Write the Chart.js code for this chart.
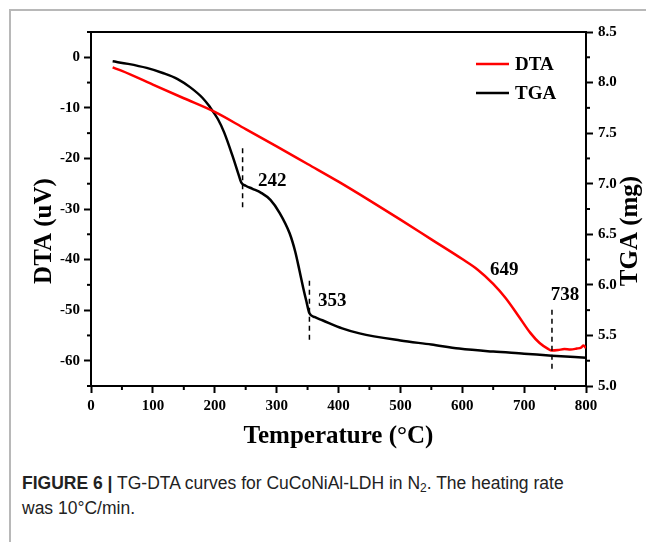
<!DOCTYPE html>
<html><head><meta charset="utf-8">
<script src="https://cdn.jsdelivr.net/npm/chart.js@4/dist/chart.umd.min.js"></script>
<style>
html,body{margin:0;padding:0;background:#fff;}
body{width:646px;height:542px;position:relative;overflow:hidden;}
#frameTop{position:absolute;left:10px;top:9px;width:636px;height:0;border-top:2px solid #b8b8b8;}
#frameLeft{position:absolute;left:9px;top:9px;width:0;height:533px;border-left:2px solid #b8b8b8;}
#wrap{position:absolute;left:0;top:0;width:646px;height:460px;}
#cap{position:absolute;left:22px;top:471px;white-space:nowrap;font-family:"Liberation Sans",Arial,sans-serif;font-size:17.5px;line-height:25px;color:#222;}
#cap b{font-weight:bold;}
#cap sub{font-size:12px;line-height:0;vertical-align:-3px;}
</style></head>
<body>
<div id="frameTop"></div><div id="frameLeft"></div>
<div id="wrap"><canvas id="c" width="646" height="460"></canvas></div>
<div id="cap"><b>FIGURE 6 |</b> TG-DTA curves for CuCoNiAl-LDH in N<sub>2</sub>. The heating rate<br>was 10°C/min.</div>
<script>
// ---- data ----
const dtaTemps = [35,50,100,150,200,250,300,350,400,450,500,550,600,625,650,670,690,710,725,738,745,755,765,775,785,792,796,800];
const dtaValues = [-2.0,-2.7,-5.4,-8.1,-10.8,-14.2,-17.6,-21.1,-24.6,-28.3,-32.1,-36.0,-39.9,-42.0,-44.8,-47.6,-51.0,-54.5,-56.5,-57.6,-58.0,-57.9,-57.7,-57.8,-57.6,-57.4,-57.0,-57.5];
const tgaTemps = [35,60,90,116,140,160,180,192,205,215,229,238,243,250,261,275,290,305,321,330,337,343,348,353,362,374,406,434,500,550,595,650,700,745,800];
const tgaValues = [8.21,8.185,8.145,8.095,8.035,7.955,7.85,7.76,7.64,7.51,7.27,7.10,7.01,6.98,6.95,6.91,6.84,6.71,6.51,6.33,6.14,5.97,5.84,5.72,5.68,5.65,5.57,5.52,5.45,5.41,5.37,5.34,5.32,5.30,5.28];
const xTicks = [0,100,200,300,400,500,600,700,800];
const xMinor = [50,150,250,350,450,550,650,750];
const dtaTicks = [-60,-50,-40,-30,-20,-10,0];
const dtaMinor = [-65,-55,-45,-35,-25,-15,-5,5];
const tgaTicks = [5.0,5.5,6.0,6.5,7.0,7.5,8.0,8.5];
const tgaMinor = [5.25,5.75,6.25,6.75,7.25,7.75,8.25];
// annotations: dashed marker lines (temperature, from, to, axis) and peak labels
const markerTemps = [245,353,745];
const markerFrom = [7.35,6.04,-49.9];
const markerTo = [6.76,5.45,-61.8];
const markerAxis = ['y1','y1','y'];
const peakLabels = ['242','353','649','738'];
const peakTemps = [293,390,668,766];
const peakValues = [7.03,5.84,-42.0,-47.1];
const peakAxis = ['y1','y1','y','y'];
const yTitles = {y:'DTA (uV)', y1:'TGA (mg)'};

const SERIF = "'Liberation Serif','Times New Roman',serif";

const extras = {
  id:'extras',
  afterDraw(chart){
    const ctx = chart.ctx, ca = chart.chartArea, s = chart.scales;
    ctx.save();
    // top frame line
    ctx.strokeStyle = '#000'; ctx.lineWidth = 2;
    ctx.beginPath(); ctx.moveTo(ca.left-1, ca.top); ctx.lineTo(ca.right+1, ca.top); ctx.stroke();
    // minor ticks
    xMinor.forEach(v=>{const x=s.x.getPixelForValue(v); ctx.beginPath(); ctx.moveTo(x,ca.bottom); ctx.lineTo(x,ca.bottom+4); ctx.stroke();});
    dtaMinor.forEach(v=>{const y=s.y.getPixelForValue(v); ctx.beginPath(); ctx.moveTo(ca.left,y); ctx.lineTo(ca.left-4,y); ctx.stroke();});
    tgaMinor.forEach(v=>{const y=s.y1.getPixelForValue(v); ctx.beginPath(); ctx.moveTo(ca.right,y); ctx.lineTo(ca.right+4,y); ctx.stroke();});
    // dashed markers
    ctx.lineWidth = 1.5; ctx.setLineDash([5,4]);
    markerTemps.forEach((t,i)=>{
      const x = s.x.getPixelForValue(t), ax = s[markerAxis[i]];
      ctx.beginPath(); ctx.moveTo(x, ax.getPixelForValue(markerFrom[i])); ctx.lineTo(x, ax.getPixelForValue(markerTo[i])); ctx.stroke();
    });
    ctx.setLineDash([]);
    // peak labels
    ctx.fillStyle = '#000'; ctx.font = 'bold 19px ' + SERIF; ctx.textAlign = 'center'; ctx.textBaseline = 'middle';
    peakLabels.forEach((lab,i)=>{
      ctx.fillText(lab, s.x.getPixelForValue(peakTemps[i]), s[peakAxis[i]].getPixelForValue(peakValues[i]));
    });
    // rotated y-axis titles (both read bottom to top)
    ctx.font = 'bold 25px ' + SERIF;
    [['y', 45], ['y1', 631]].forEach(([id, cx])=>{
      ctx.save(); ctx.translate(cx, (ca.top+ca.bottom)/2 + 22); ctx.rotate(-Math.PI/2);
      ctx.fillText(yTitles[id], 0, 0); ctx.restore();
    });
    // legend
    ctx.textAlign = 'left';
    chart.data.datasets.forEach((ds,i)=>{
      const y = ca.top + 32 + i*29, x0 = ca.right - 110;
      ctx.strokeStyle = ds.borderColor; ctx.lineWidth = 2.5;
      ctx.beginPath(); ctx.moveTo(x0,y); ctx.lineTo(x0+33,y); ctx.stroke();
      ctx.fillStyle = '#000'; ctx.font = 'bold 19px ' + SERIF;
      ctx.fillText(ds.label, x0+39, y+1);
    });
    ctx.restore();
  }
};

const tickFont = {family:SERIF, weight:'bold', size:15};
const titleFont = {family:SERIF, weight:'bold', size:25, lineHeight:1.2};
const gridOpt = {drawOnChartArea:false, drawTicks:true, tickLength:7, tickWidth:2, tickColor:'#000'};
const borderOpt = {color:'#000', width:2};

new Chart(document.getElementById('c'), {
  type:'line',
  data:{
    datasets:[
      {label:'DTA', data:dtaTemps.map((t,i)=>({x:t,y:dtaValues[i]})), borderColor:'#ff0000', yAxisID:'y', order:1},
      {label:'TGA', data:tgaTemps.map((t,i)=>({x:t,y:tgaValues[i]})), borderColor:'#000000', yAxisID:'y1', order:2}
    ]
  },
  options:{
    responsive:false, animation:false, devicePixelRatio:1,
    layout:{padding:{top:32,left:0,right:0,bottom:0}},
    plugins:{legend:{display:false}, tooltip:{enabled:false}},
    elements:{point:{radius:0}, line:{borderWidth:2.5, cubicInterpolationMode:'monotone', fill:false}},
    scales:{
      x:{type:'linear', min:0, max:800,
        afterBuildTicks(sc){sc.ticks = xTicks.map(v=>({value:v}));},
        afterFit(sc){sc.height = 74;},
        grid:gridOpt, border:borderOpt,
        ticks:{font:tickFont, color:'#000', padding:4, maxRotation:0, autoSkip:false, callback:v=>String(v)},
        title:{display:true, text:'Temperature (°C)', font:titleFont, color:'#000', padding:{top:0,bottom:8}}
      },
      y:{type:'linear', position:'left', min:-65, max:5,
        afterBuildTicks(sc){sc.ticks = dtaTicks.map(v=>({value:v}));},
        afterFit(sc){sc.width = 91;},
        grid:gridOpt, border:borderOpt,
        ticks:{font:tickFont, color:'#000', padding:4, autoSkip:false, callback:v=>String(v)},
        title:{display:false}
      },
      y1:{type:'linear', position:'right', min:5, max:8.5,
        afterBuildTicks(sc){sc.ticks = tgaTicks.map(v=>({value:v}));},
        afterFit(sc){sc.width = 60;},
        grid:gridOpt, border:borderOpt,
        ticks:{font:tickFont, color:'#000', padding:5, autoSkip:false, callback:v=>Number(v).toFixed(1)},
        title:{display:false}
      }
    }
  },
  plugins:[extras]
});
</script>
</body></html>
